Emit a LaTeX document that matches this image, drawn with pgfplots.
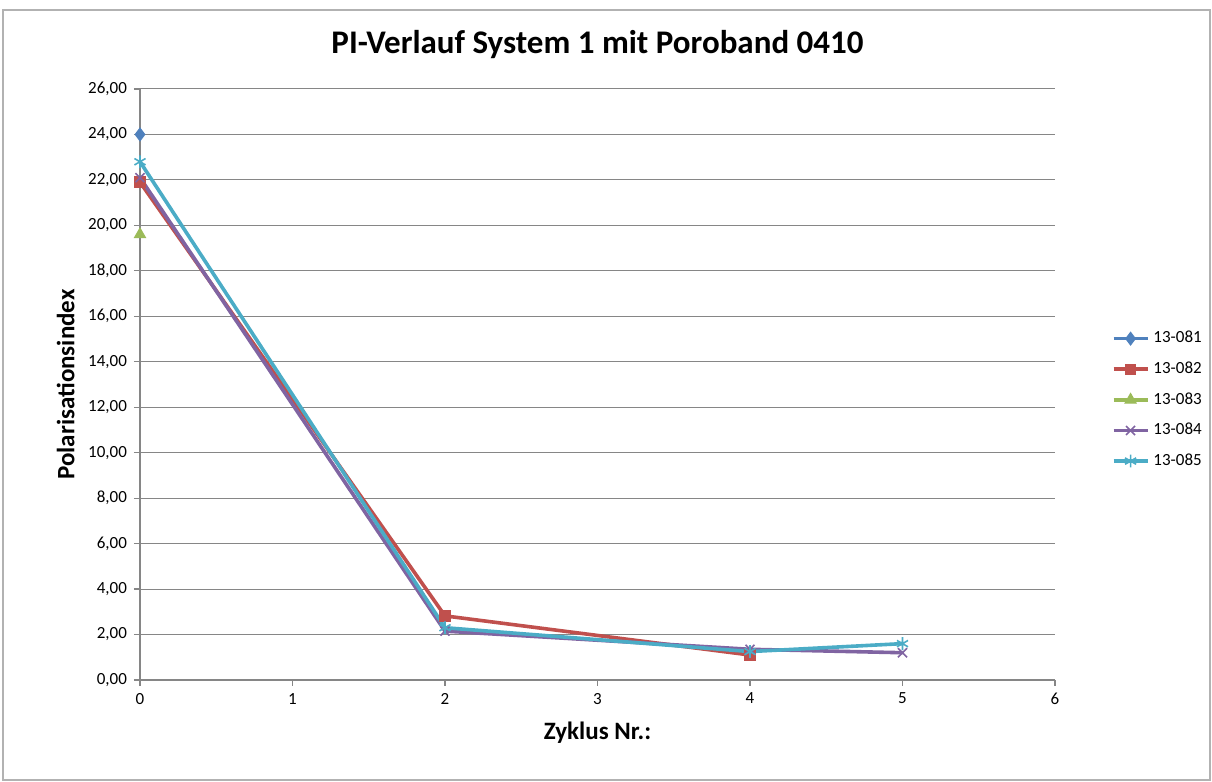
\documentclass[border=0pt]{standalone}
\usepackage{pgfplots}
\pgfplotsset{compat=1.18}
\usepackage{fontspec}
\setmainfont{Carlito}
\usetikzlibrary{plotmarks}
\definecolor{xlblue}{HTML}{4F81BD}
\definecolor{xlred}{HTML}{C0504D}
\definecolor{xlgreen}{HTML}{9BBB59}
\definecolor{xlpurple}{HTML}{8064A2}
\definecolor{xlcyan}{HTML}{4BACC6}
\definecolor{gridgray}{HTML}{868686}
\begin{document}
\begin{tikzpicture}[x=0.5pt,y=0.5pt]
\begin{axis}[
  at={(0,0)}, anchor=south west,
  scale only axis,
  width=457.5pt, height=295.5pt,
  xmin=0, xmax=6, ymin=0, ymax=26,
  xtick={0,...,6}, ytick={0,2,...,26},
  axis lines*=left,
  axis line style={gridgray, line width=0.6pt},
  ymajorgrids, grid style={gridgray, line width=0.5pt},
  tick style={gridgray, line width=0.6pt},
  tick align=outside, major tick length=3pt,
  tick label style={font=\fontsize{8.5}{9}\selectfont},
  yticklabel style={/pgf/number format/.cd, fixed, fixed zerofill, precision=2, use comma, assume math mode=true},
  xticklabel style={/pgf/number format/assume math mode=true},
  xlabel={\bfseries Zyklus Nr.:},
  ylabel={\bfseries Polarisationsindex},
  label style={font=\fontsize{12.5}{14}\selectfont\bfseries},
  xlabel style={yshift=-2pt},
  ylabel style={yshift=0pt},
  title={\bfseries PI-Verlauf System 1 mit Poroband 0410},
  title style={font=\fontsize{16.5}{18}\selectfont\bfseries, yshift=5.5pt},
  legend style={at={(1.055,0.474)}, anchor=west, draw=none, fill=none,
    font=\fontsize{8.5}{10}\selectfont, row sep=4pt},
  legend cell align=left,
  legend image code/.code={
    \draw[mark repeat=2,mark phase=2,#1] plot coordinates {(0cm,0cm) (0.3cm,0cm) (0.6cm,0cm)};},
  every axis plot/.append style={line width=1.8pt},
  clip=false,
]
\addplot[xlblue, mark=diamond*, mark size=3.2pt, mark options={solid, line width=0.5pt}]
  coordinates {(0,24.0)};
\addlegendentry{13-081}
\addplot[xlred, mark=square*, mark size=2.6pt, mark options={line width=0.5pt}]
  coordinates {(0,21.9) (2,2.82) (4,1.1)};
\addlegendentry{13-082}
\addplot[xlgreen, mark=triangle*, mark size=3.2pt, mark options={line width=0.5pt}]
  coordinates {(0,19.6)};
\addlegendentry{13-083}
\addplot[xlpurple, mark=x, mark size=3.2pt, mark options={line width=0.8pt}]
  coordinates {(0,22.1) (2,2.15) (4,1.35) (5,1.2)};
\addlegendentry{13-084}
\addplot[xlcyan, mark=asterisk, mark size=3.2pt, mark options={line width=0.8pt}]
  coordinates {(0,22.8) (2,2.3) (4,1.25) (5,1.6)};
\addlegendentry{13-085}
\end{axis}
\draw[gray!60, line width=0.8pt] (-137,-100) rectangle (1070,670);
\pgfresetboundingbox
\useasboundingbox (-140,-102) rectangle (1072,680);
\end{tikzpicture}
\end{document}
